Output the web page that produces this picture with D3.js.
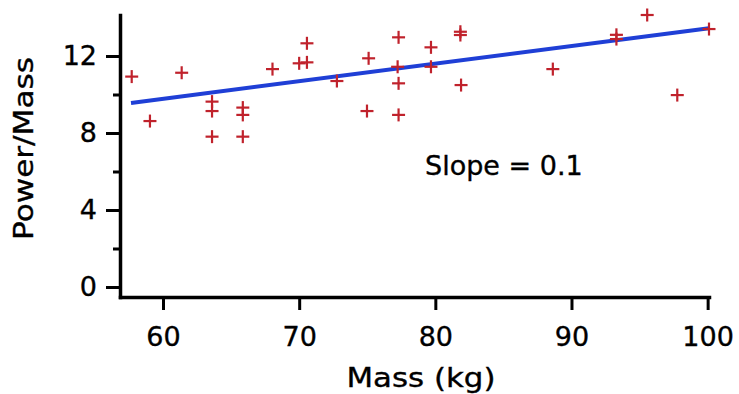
<!DOCTYPE html>
<html>
<head>
<meta charset="utf-8">
<script src="https://cdn.jsdelivr.net/npm/d3@7"></script>
<style>
  html, body { margin: 0; padding: 0; background: #fff; }
  svg { display: block; }
  text { font-family: "DejaVu Sans", Verdana, sans-serif; fill: #000; stroke: #000; stroke-width: 0.35; }
</style>
</head>
<body>
<svg id="chart" width="739" height="394"></svg>
<script>
// Data
const mass = [57.7, 59.04, 61.37, 63.6, 63.6, 63.6, 65.86, 65.86, 65.86, 68.04,
              70.0, 70.57, 70.57, 72.77, 74.98, 75.1, 77.23, 77.3, 77.3, 77.3,
              79.68, 79.68, 81.84, 81.84, 81.89, 88.63, 93.3, 93.3, 95.56, 97.77, 100.1];
const powerMass = [10.93, 8.62, 11.13, 9.63, 9.14, 7.81, 9.32, 8.94, 7.81, 11.32,
                   11.62, 11.67, 12.66, 10.70, 9.14, 11.88, 11.44, 12.97, 10.58, 8.94,
                   12.45, 11.44, 13.26, 13.09, 10.49, 11.32, 13.1, 12.88, 14.13, 9.97, 13.4];
const fitMass = [57.65, 100.1];
const fitPowerMass = [9.56, 13.44];
const xTicks = [60, 70, 80, 90, 100];
const yTicksMajor = [0, 4, 8, 12];
const yTicksMinor = [2, 6, 10];
const xTitle = "Mass (kg)";
const yTitle = "Power/Mass";
const annotation = "Slope = 0.1";

const svg = d3.select("#chart");
const x = d3.scaleLinear().domain([56.84, 100.1]).range([120, 709]);
const y = d3.scaleLinear().domain([-0.52, 14.13]).range([297, 15]);

function styleAxis(g) {
  g.select(".domain").attr("stroke", "#000").attr("stroke-width", 3.5).attr("stroke-linecap", "square");
  g.selectAll(".tick line").attr("stroke", "#000").attr("stroke-width", 3);
  g.selectAll(".tick text").attr("font-size", 27).attr("font-family", "DejaVu Sans").attr("fill", "#000");
}

// Fit line
const line = d3.line().x(d => x(d[0])).y(d => y(d[1]));
svg.append("path")
  .datum(d3.zip(fitMass, fitPowerMass))
  .attr("d", line)
  .attr("fill", "none")
  .attr("stroke", "#1f3fd6")
  .attr("stroke-width", 4);

// Points as plus markers
const pts = svg.append("g").selectAll("g").data(d3.zip(mass, powerMass)).join("g")
  .attr("transform", d => `translate(${x(d[0])},${y(d[1])})`);
const h = 6.5;
pts.append("line").attr("x1", -h).attr("x2", h).attr("y1", 0).attr("y2", 0)
  .attr("stroke", "#c0222c").attr("stroke-width", 2.2);
pts.append("line").attr("x1", 0).attr("x2", 0).attr("y1", -h).attr("y2", h)
  .attr("stroke", "#c0222c").attr("stroke-width", 2.2);

// Y minor ticks
svg.append("g").attr("transform", "translate(120,0)")
  .call(d3.axisLeft(y).tickValues(yTicksMinor).tickSize(7).tickSizeOuter(0).tickFormat(""))
  .call(g => { styleAxis(g); g.select(".domain").remove(); });

// Y axis
svg.append("g").attr("transform", "translate(120,0)")
  .call(d3.axisLeft(y).tickValues(yTicksMajor).tickSize(14).tickPadding(9).tickSizeOuter(0).tickFormat(d3.format("d")))
  .call(styleAxis);

// X axis
svg.append("g").attr("transform", "translate(0,297)")
  .call(d3.axisBottom(x).tickValues(xTicks).tickSize(13).tickPadding(17).tickSizeOuter(0).tickFormat(d3.format("d")))
  .call(styleAxis);

// Titles
svg.append("text")
  .attr("x", 421).attr("y", 387)
  .attr("text-anchor", "middle")
  .attr("font-size", 27)
  .attr("textLength", 149).attr("lengthAdjust", "spacingAndGlyphs")
  .text(xTitle);

svg.append("text")
  .attr("transform", "translate(33,148.5) rotate(-90)")
  .attr("text-anchor", "middle")
  .attr("font-size", 27)
  .attr("textLength", 183).attr("lengthAdjust", "spacingAndGlyphs")
  .text(yTitle);

svg.append("text")
  .attr("x", 425).attr("y", 175)
  .attr("font-size", 27)
  .text(annotation);
</script>
</body>
</html>
